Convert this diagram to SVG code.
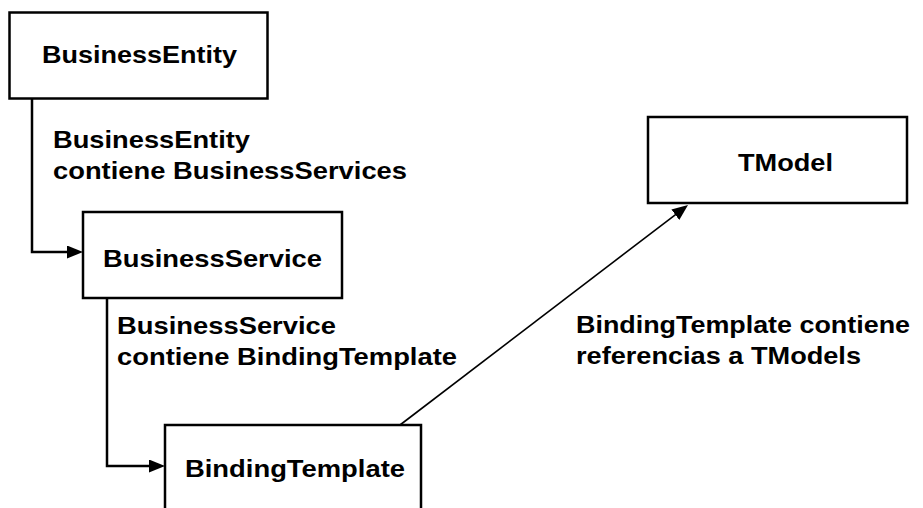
<svg xmlns="http://www.w3.org/2000/svg" width="923" height="508" viewBox="0 0 923 508">
  <defs>
    <style>
      .box { fill: #ffffff; stroke: #000000; stroke-width: 2.5; }
      .t { font-family: "Liberation Sans", Arial, sans-serif; font-weight: bold; font-size: 24px; fill: #000000; }
      .conn { fill: none; stroke: #000000; stroke-width: 2.5; }
      .thin { fill: none; stroke: #000000; stroke-width: 1.6; }
    </style>
    <marker id="arrow" markerUnits="userSpaceOnUse" markerWidth="16" markerHeight="13" refX="4" refY="6.5" orient="auto">
      <path d="M0,0 L16,6.5 L0,13 z" fill="#000000"/>
    </marker>
  </defs>
  <rect width="923" height="508" fill="#ffffff"/>

  <g id="connectors">
    <path class="conn" d="M32,98 V252 H71" marker-end="url(#arrow)"/>
    <path class="conn" d="M107,298 V466 H153" marker-end="url(#arrow)"/>
    <line class="thin" x1="400" y1="425" x2="678.5" y2="212.3" marker-end="url(#arrow)"/>
    <text class="t" x="53" y="148" textLength="197" lengthAdjust="spacingAndGlyphs">BusinessEntity</text>
    <text class="t" x="53" y="179" textLength="354" lengthAdjust="spacingAndGlyphs">contiene BusinessServices</text>
    <text class="t" x="117" y="334" textLength="219" lengthAdjust="spacingAndGlyphs">BusinessService</text>
    <text class="t" x="117" y="365" textLength="340" lengthAdjust="spacingAndGlyphs">contiene BindingTemplate</text>
    <text class="t" x="576" y="333" textLength="334" lengthAdjust="spacingAndGlyphs">BindingTemplate contiene</text>
    <text class="t" x="576" y="364" textLength="285" lengthAdjust="spacingAndGlyphs">referencias a TModels</text>
  </g>

  <g id="businessEntity">
    <rect class="box" x="9.5" y="12.5" width="258" height="86"/>
    <text class="t" x="42" y="63" textLength="195" lengthAdjust="spacingAndGlyphs">BusinessEntity</text>
  </g>

  <g id="businessService">
    <rect class="box" x="83" y="212" width="259" height="86"/>
    <text class="t" x="103" y="267" textLength="219" lengthAdjust="spacingAndGlyphs">BusinessService</text>
  </g>

  <g id="bindingTemplate">
    <rect class="box" x="165" y="425" width="256" height="100"/>
    <text class="t" x="185" y="477" textLength="220" lengthAdjust="spacingAndGlyphs">BindingTemplate</text>
  </g>

  <g id="tModel">
    <rect class="box" x="648" y="117" width="259" height="86"/>
    <text class="t" x="738" y="171" textLength="95" lengthAdjust="spacingAndGlyphs">TModel</text>
  </g>
</svg>
